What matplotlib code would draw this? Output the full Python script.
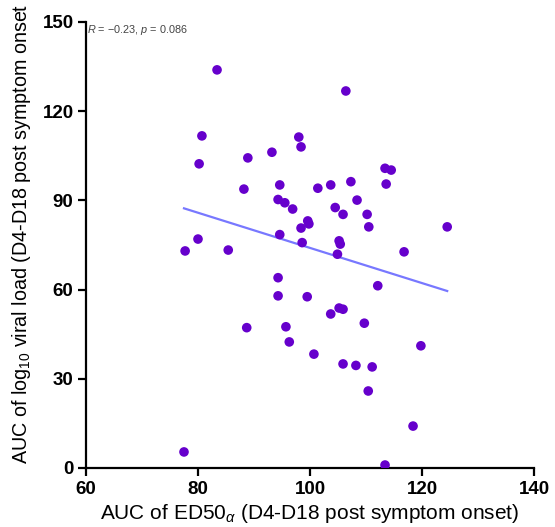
import numpy as np
import matplotlib

matplotlib.use("Agg")
import matplotlib.pyplot as plt

# AUC of ED50 alpha (x) vs AUC of log10 viral load (y)
ed50_auc = [
    83.4, 80.7, 80.2, 77.7, 80.0, 85.4, 88.9, 88.2, 93.2, 94.6,
    94.3, 94.6, 106.4, 98.0, 98.4, 95.5, 96.9, 101.4, 103.7, 107.3,
    113.4, 114.5, 113.6, 104.5, 105.9, 108.4, 110.2, 110.5, 99.6, 99.8,
    98.4, 98.6, 105.2, 105.4, 104.9, 124.5, 116.8, 94.3, 94.3, 88.7,
    77.5, 99.5, 112.1, 103.7, 105.2, 105.9, 109.7, 95.7, 96.3, 100.7,
    105.9, 108.2, 111.1, 119.8, 110.4, 118.4, 113.4,
]
viral_auc = [
    133.9, 111.7, 102.3, 73.0, 77.0, 73.3, 104.3, 93.8, 106.2, 95.2,
    90.3, 78.5, 126.8, 111.3, 108.0, 89.2, 87.1, 94.1, 95.2, 96.3,
    100.8, 100.2, 95.5, 87.6, 85.3, 90.1, 85.3, 81.1, 83.1, 82.1,
    80.7, 75.8, 76.4, 75.3, 71.9, 81.1, 72.7, 64.0, 57.9, 47.2,
    5.4, 57.6, 61.3, 51.8, 53.8, 53.4, 48.7, 47.5, 42.4, 38.3,
    35.0, 34.5, 34.0, 41.1, 25.9, 14.1, 1.0,
]
x_ticks = [60, 80, 100, 120, 140]
y_ticks = [0, 30, 60, 90, 120, 150]
stats_text = r"$\it{R}$ = −0.23, $\it{p}$ = 0.086"

plt.rcParams["font.family"] = ["Liberation Sans", "DejaVu Sans"]
plt.rcParams["mathtext.fontset"] = "custom"
plt.rcParams["mathtext.rm"] = "Liberation Sans"
plt.rcParams["mathtext.it"] = "Liberation Sans:italic"

fig = plt.figure(figsize=(5.55, 5.27), dpi=100)
ax = fig.add_axes([86 / 555, 59 / 527, 448 / 555, 446 / 527])

x = np.array(ed50_auc)
y = np.array(viral_auc)
slope, intercept = np.polyfit(x, y, 1)
xfit = np.array([x.min(), x.max()])
ax.plot(xfit, slope * xfit + intercept, color="#7878ff", lw=1.6, zorder=2)
ax.scatter(x, y, s=48, color="#6600cc", edgecolors="none", zorder=3)

ax.set_xlim(60, 140)
ax.set_ylim(0, 150)
ax.set_xticks(x_ticks)
ax.set_yticks(y_ticks)
for side in ("top", "right"):
    ax.spines[side].set_visible(False)
for side in ("left", "bottom"):
    ax.spines[side].set_linewidth(1.6)
ax.tick_params(axis="both", length=6, width=1.6, pad=3)
for lab in ax.get_xticklabels() + ax.get_yticklabels():
    lab.set_fontsize(13.5)
    lab.set_fontweight("bold")

ax.set_xlabel(r"AUC of ED50$_{\alpha}$ (D4-D18 post symptom onset)", fontsize=15, labelpad=3)
ax.set_ylabel(r"AUC of log$_{10}$ viral load (D4-D18 post symptom onset", fontsize=14.2)
ax.yaxis.set_label_coords(-0.118, 0.526)

ax.text(0.003, 0.997, stats_text, transform=ax.transAxes, fontsize=7.8,
        color="#444444", ha="left", va="top")

fig.savefig("out.png", dpi=100)
